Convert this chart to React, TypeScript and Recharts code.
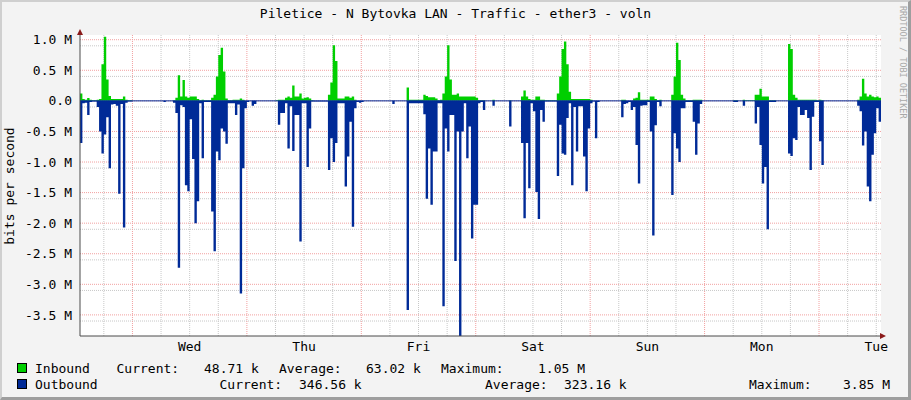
import { ComposedChart, Area, XAxis, YAxis, CartesianGrid, ReferenceLine } from "recharts"

// half-hour samples starting Tue 13:00, values in Mbit/s
const inboundM = [
  0.12, 0.03, 0.02, 0.045, 0.02, 0.01, 0.01, 0.02, 0.03, 0.6, 1.05, 0.35, 0.08, 0.03, 0.03, 0.03, 0.03, 0.03, 0.07, 0.02, 0.01, 0.01, 0, 0,
  0, 0, 0, 0, 0, 0, 0, 0, 0, 0, 0, 0, 0, 0, 0, 0.01, 0.05, 0.42, 0.07, 0.34, 0.07, 0.05, 0.07, 0.07,
  0.07, 0.03, 0.01, 0.02, 0.01, 0.01, 0.01, 0.05, 0.1, 0.4, 0.75, 0.87, 0.48, 0.04, 0.01, 0.01, 0.02, 0.02, 0.02, 0.04, 0.02, 0, 0, 0,
  0, 0, 0, 0, 0, 0, 0, 0, 0, 0, 0.01, 0.02, 0.02, 0.02, 0.05, 0.07, 0.05, 0.25, 0.07, 0.07, 0.12, 0.04, 0.05, 0.06,
  0.04, 0.01, 0, 0, 0, 0, 0, 0, 0.1, 0.3, 0.91, 0.65, 0.04, 0.04, 0.04, 0.07, 0.07, 0.05, 0.07, 0.02, 0, 0, 0, 0,
  0, 0, 0, 0, 0, 0, 0, 0, 0, 0, 0, 0, 0, 0, 0, 0, 0, 0.22, 0.02, 0.02, 0.02, 0.02, 0.02, 0.02,
  0.1, 0.08, 0.06, 0.06, 0.06, 0.04, 0.01, 0.02, 0.12, 0.4, 0.91, 0.35, 0.1, 0.1, 0.12, 0.07, 0.07, 0.07, 0.07, 0.07, 0.07, 0.07, 0.05, 0.01,
  0.01, 0.01, 0, 0, 0, 0.02, 0, 0, 0, 0, 0, 0, 0.01, 0, 0, 0, 0, 0.07, 0.17, 0.07, 0.03, 0.02, 0.02, 0.07,
  0.07, 0.02, 0.02, 0.01, 0.01, 0.01, 0.01, 0.01, 0.12, 0.4, 0.85, 0.97, 0.6, 0.15, 0.03, 0.03, 0.03, 0.03, 0.03, 0.03, 0.03, 0.03, 0.02, 0,
  0, 0, 0, 0, 0, 0, 0, 0, 0, 0, 0, 0.02, 0.02, 0, 0, 0, 0.04, 0.05, 0.14, 0.02, 0.02, 0.02, 0.02, 0.07,
  0.07, 0.03, 0.01, 0.02, 0, 0, 0, 0, 0.1, 0.4, 0.95, 0.67, 0.1, 0.04, 0.01, 0.01, 0.01, 0.02, 0.02, 0.02, 0.02, 0, 0, 0,
  0, 0, 0, 0, 0, 0, 0, 0, 0, 0, 0.01, 0.01, 0, 0, 0.02, 0.01, 0.01, 0.01, 0.01, 0.1, 0.1, 0.2, 0.07, 0.07,
  0.07, 0.01, 0.01, 0.01, 0, 0, 0, 0, 0, 0.93, 0.85, 0.1, 0.05, 0.02, 0.02, 0.02, 0.02, 0.02, 0.02, 0.02, 0.02, 0.01, 0.02, 0.01,
  0, 0, 0, 0, 0, 0, 0, 0, 0, 0, 0, 0, 0, 0, 0.02, 0.07, 0.36, 0.12, 0.07, 0.1, 0.07, 0.06, 0.07, 0.05,
]

const outboundM = [
  0.69, 0.04, 0.03, 0.23, 0.02, 0.01, 0.01, 0.1, 0.5, 0.86, 0.55, 0.27, 1.1, 0.06, 0.05, 0.08, 1.52, 0.05, 2.07, 0.03, 0.01, 0.01, 0, 0,
  0, 0, 0, 0, 0, 0, 0, 0, 0, 0, 0, 0.02, 0, 0, 0, 0.03, 0.2, 2.73, 0.07, 0.1, 1.38, 1.48, 0.3, 0.95,
  2.0, 1.64, 0.04, 0.94, 0.02, 0.02, 0.02, 1.81, 2.46, 0.83, 0.97, 0.45, 0.5, 0.7, 0.04, 0.04, 0.04, 0.23, 0.06, 3.15, 1.1, 0.12, 0.02, 0,
  0.08, 0.05, 0, 0, 0, 0, 0, 0, 0, 0, 0, 0.39, 0.2, 0.2, 0.04, 0.78, 0.09, 0.82, 0.23, 0.23, 2.3, 0.04, 0.04, 1.08,
  0.45, 0.01, 0.01, 0.01, 0.01, 0.01, 0.01, 0.01, 1.13, 0.61, 1.0, 0.69, 0.04, 0.04, 0.04, 1.4, 0.91, 0.34, 2.06, 0.12, 0.02, 0.03, 0.02, 0,
  0, 0, 0, 0, 0, 0, 0, 0, 0, 0, 0, 0.05, 0, 0, 0, 0, 0, 3.42, 0.04, 0.04, 0.04, 0.04, 0.04, 0.04,
  0.22, 1.6, 0.78, 1.7, 0.83, 0.83, 0.04, 0.04, 3.36, 0.45, 0.83, 0.23, 0.23, 2.62, 0.5, 3.85, 0.5, 0.04, 0.94, 0.42, 2.25, 1.7, 1.7, 0.04,
  0.02, 0.15, 0, 0, 0, 0.08, 0, 0, 0, 0, 0, 0, 0.42, 0, 0, 0, 0, 0.69, 1.92, 0.69, 1.43, 0.04, 0.17, 1.49,
  1.93, 0.15, 0.34, 0.01, 0.01, 0.01, 0.01, 0.01, 1.23, 0.39, 0.86, 0.88, 0.28, 0.04, 1.38, 0.1, 0.83, 0.09, 0.09, 0.91, 1.48, 0.45, 0.04, 0.01,
  0.61, 0.02, 0, 0, 0, 0, 0, 0, 0, 0, 0, 0.27, 0.05, 0.04, 0.02, 0.15, 0.1, 0.72, 1.35, 0.08, 0.07, 0.07, 0.02, 0.5,
  2.2, 0.4, 0.02, 0.09, 0, 0, 0, 0, 1.54, 0.53, 0.78, 1.0, 0.12, 0.12, 0.02, 0.02, 0.02, 0.34, 0.88, 0.37, 0.05, 0, 0, 0,
  0, 0, 0, 0, 0, 0, 0, 0, 0, 0, 0.02, 0.02, 0, 0, 0.08, 0, 0, 0, 0, 0.37, 0.1, 0.72, 1.35, 1.08,
  2.1, 0.02, 0.02, 0.02, 0, 0, 0, 0, 0, 0.86, 0.9, 0.61, 0.64, 0.1, 0.23, 0.23, 0.15, 0.28, 1.13, 0.26, 0.02, 0.02, 0.66, 1.05,
  0, 0, 0, 0, 0, 0, 0, 0, 0, 0, 0, 0, 0, 0, 0.08, 0.17, 0.73, 0.5, 1.4, 1.64, 0.88, 0.53, 0.12, 0.34,
]

const dayLabels = ["Wed", "Thu", "Fri", "Sat", "Sun", "Mon", "Tue"]
const dayLabelHours = [23, 47, 71, 95, 119, 143, 167]
const midnightHours = [11, 35, 59, 83, 107, 131, 155]
const yTicks = [1, 0.5, 0, -0.5, -1, -1.5, -2, -2.5, -3, -3.5]

const inboundStats = ["48.71 k", "63.02 k", "1.05 M"]
const outboundStats = ["346.56 k", "323.16 k", "3.85 M"]

const FONT = "'DejaVu Sans Mono', monospace"

const data = inboundM.map((v, i) => ({ h: i * 0.5, inb: v, out: -outboundM[i] }))
data.push({ h: 168, inb: inboundM[inboundM.length - 1], out: -outboundM[outboundM.length - 1] })

// minor grid every 6 hours and every 0.1 M
const minorX: number[] = []
for (let h = 5; h < 168; h += 6) if (!midnightHours.includes(h)) minorX.push(h)
const minorY: number[] = []
for (let k = -38; k <= 10; k++) if (k % 5 !== 0) minorY.push(k / 10)

const fmtY = (v: number) => (v === 0 ? "0.0" : `${v.toFixed(1)} M`)

export default function App() {
  return (
    <div
      style={{
        position: "absolute",
        left: 0,
        top: 0,
        width: 911,
        height: 400,
        boxSizing: "border-box",
        background: "#F3F3F3",
        borderTop: "2px solid #CFCFCF",
        borderLeft: "2px solid #CFCFCF",
        borderBottom: "3px solid #9E9E9E",
        borderRight: "3px solid #9E9E9E",
      }}
    >
      <div style={{ position: "absolute", left: -2, top: -2 }}>
        <ComposedChart
          width={911}
          height={400}
          data={data}
          margin={{ top: 35, right: 30, bottom: 34, left: 0 }}
        >
          <CartesianGrid
            fill="#FFFFFF"
            stroke="#C8C8C8"
            strokeDasharray="1 1"
            horizontalValues={minorY}
            verticalValues={minorX}
          />
          <CartesianGrid
            stroke="#F2A0A0"
            strokeDasharray="1 1"
            horizontalValues={yTicks}
            verticalValues={midnightHours}
          />
          <XAxis
            dataKey="h"
            type="number"
            domain={[0, 168]}
            ticks={dayLabelHours}
            tickFormatter={(v: number) => dayLabels[dayLabelHours.indexOf(v)]}
            allowDataOverflow
            height={30}
            tickSize={4}
            tickMargin={2}
            tickLine={false}
            axisLine={{ stroke: "#4A4A4A" }}
            tick={{ fontFamily: FONT, fontSize: 13, fill: "#000" }}
          />
          <YAxis
            type="number"
            domain={[-3.845, 1.077]}
            ticks={yTicks}
            tickFormatter={fmtY}
            allowDataOverflow
            width={80}
            tickSize={6}
            tickMargin={2}
            tickLine={false}
            axisLine={{ stroke: "#4A4A4A" }}
            tick={{ fontFamily: FONT, fontSize: 13, fill: "#000" }}
          />
          <Area
            type="stepAfter"
            dataKey="inb"
            fill="#00CF00"
            fillOpacity={1}
            stroke="none"
            isAnimationActive={false}
          />
          <Area
            type="stepAfter"
            dataKey="out"
            fill="#002A97"
            fillOpacity={1}
            stroke="none"
            isAnimationActive={false}
          />
          <ReferenceLine y={0} stroke="#002A97" />
        </ComposedChart>
      </div>
      <svg
        width={911}
        height={400}
        style={{ position: "absolute", left: -2, top: -2, pointerEvents: "none" }}
        fontFamily={FONT}
        fontSize={13}
      >
        <text x={455.5} y={18} textAnchor="middle" fill="#000">
          Piletice - N Bytovka LAN - Traffic - ether3 - voln
        </text>
        <text
          x={0}
          y={0}
          transform="translate(14 186) rotate(-90)"
          textAnchor="middle"
          fill="#000"
        >
          bits per second
        </text>
        <text
          x={0}
          y={0}
          transform="translate(900 6) rotate(90)"
          fontSize={8.5}
          fill="#A8A8A8"
        >
          RRDTOOL / TOBI OETIKER
        </text>
        <polygon points="880,333 880,339 886,336" fill="#8B1A1A" />
        <polygon points="77,35 83,35 80,29" fill="#8B1A1A" />

        <rect x={17.5} y={363.5} width={9} height={9} fill="#00CF00" stroke="#000" />
        <rect x={17.5} y={379.5} width={9} height={9} fill="#002A97" stroke="#000" />

        <text x={35} y={372.5} fill="#000">Inbound</text>
        <text x={116.5} y={372.5} fill="#000">Current:</text>
        <text x={204} y={372.5} fill="#000" xmlSpace="preserve">{inboundStats[0]}</text>
        <text x={279} y={372.5} fill="#000">Average:</text>
        <text x={366} y={372.5} fill="#000">{inboundStats[1]}</text>
        <text x={441} y={372.5} fill="#000">Maximum:</text>
        <text x={538} y={372.5} fill="#000">{inboundStats[2]}</text>

        <text x={35} y={388.5} fill="#000">Outbound</text>
        <text x={219.5} y={388.5} fill="#000">Current:</text>
        <text x={299} y={388.5} fill="#000">{outboundStats[0]}</text>
        <text x={485} y={388.5} fill="#000">Average:</text>
        <text x={564} y={388.5} fill="#000">{outboundStats[1]}</text>
        <text x={749} y={388.5} fill="#000">Maximum:</text>
        <text x={843} y={388.5} fill="#000">{outboundStats[2]}</text>
      </svg>
    </div>
  )
}
